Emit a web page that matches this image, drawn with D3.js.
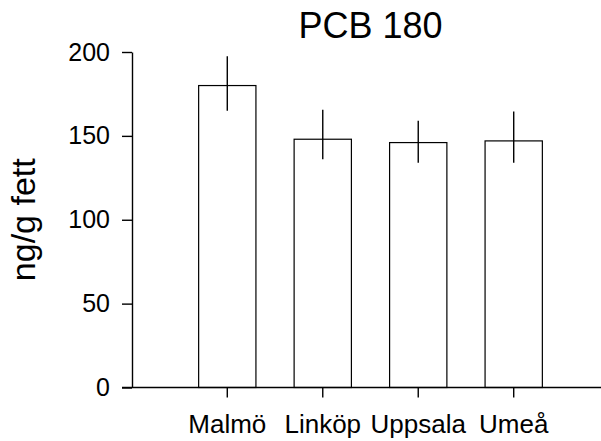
<!DOCTYPE html>
<html>
<head>
<meta charset="utf-8">
<script src="https://cdn.jsdelivr.net/npm/d3@7"></script>
<style>
	body { margin: 0; background: #fff; }
	text { font-family: "Liberation Sans", Arial, sans-serif; fill: #000; }
</style>
</head>
<body>
<div id="chart"></div>
<script>
const categories = ["Malmö", "Linköp", "Uppsala", "Umeå"];
const means = [180, 148, 146, 147];
const errUpper = [197.5, 165.5, 159, 164.5];
const errLower = [165, 136, 134, 134];
const yTicks = [0, 50, 100, 150, 200];

const title = "PCB 180";
const yLabel = "ng/g fett";

const width = 601, height = 441;

const svg = d3.select("#chart").append("svg")
	.attr("width", width)
	.attr("height", height);

const yScale = d3.scaleLinear()
	.domain([0, 200])
	.range([387.5, 52]);

const xScale = d3.scaleBand()
	.domain(categories)
	.range([170, 571])
	.paddingInner(0.4)
	.paddingOuter(0.3);

const axisX = 132;
const center = (d) => xScale(d) + xScale.bandwidth() / 2;

// bars
svg.append("g")
	.selectAll("rect")
	.data(categories)
	.enter()
	.append("rect")
		.attr("x", (d) => xScale(d))
		.attr("y", (d, i) => yScale(means[i]))
		.attr("width", xScale.bandwidth())
		.attr("height", (d, i) => yScale(0) - yScale(means[i]))
		.attr("fill", "#fff")
		.attr("stroke", "#000")
		.attr("stroke-width", 1.2);

// error bars
svg.append("g")
	.selectAll("line")
	.data(categories)
	.enter()
	.append("line")
		.attr("x1", center)
		.attr("x2", center)
		.attr("y1", (d, i) => yScale(errUpper[i]))
		.attr("y2", (d, i) => yScale(errLower[i]))
		.attr("stroke", "#000")
		.attr("stroke-width", 1.4);

// y axis
const yAxis = svg.append("g")
	.attr("transform", "translate(" + axisX + ",0)")
	.call(d3.axisLeft(yScale)
		.tickValues(yTicks)
		.tickSize(10)
		.tickSizeOuter(0)
		.tickPadding(12)
		.tickFormat((d) => d));
yAxis.selectAll("path, line").attr("stroke", "#000").attr("stroke-width", 1.4);
yAxis.selectAll("text")
	.attr("font-family", "Liberation Sans, Arial, sans-serif")
	.attr("font-size", 25)
	.attr("fill", "#000");

// x axis
svg.append("line")
	.attr("x1", 122)
	.attr("x2", width)
	.attr("y1", yScale(0))
	.attr("y2", yScale(0))
	.attr("stroke", "#000")
	.attr("stroke-width", 1.4);

svg.append("g")
	.selectAll("line")
	.data(categories)
	.enter()
	.append("line")
		.attr("x1", center)
		.attr("x2", center)
		.attr("y1", yScale(0))
		.attr("y2", yScale(0) + 10)
		.attr("stroke", "#000")
		.attr("stroke-width", 1.4);

svg.append("g")
	.selectAll("text")
	.data(categories)
	.enter()
	.append("text")
		.attr("x", center)
		.attr("y", 433)
		.attr("text-anchor", "middle")
		.attr("font-size", 26)
		.text((d) => d);

// title and axis label
svg.append("text")
	.attr("x", 370.5)
	.attr("y", 38)
	.attr("text-anchor", "middle")
	.attr("font-size", 36)
	.text(title);

svg.append("text")
	.attr("transform", "translate(35," + yScale(100) + ") rotate(-90)")
	.attr("text-anchor", "middle")
	.attr("font-size", 34)
	.text(yLabel);
</script>
</body>
</html>
